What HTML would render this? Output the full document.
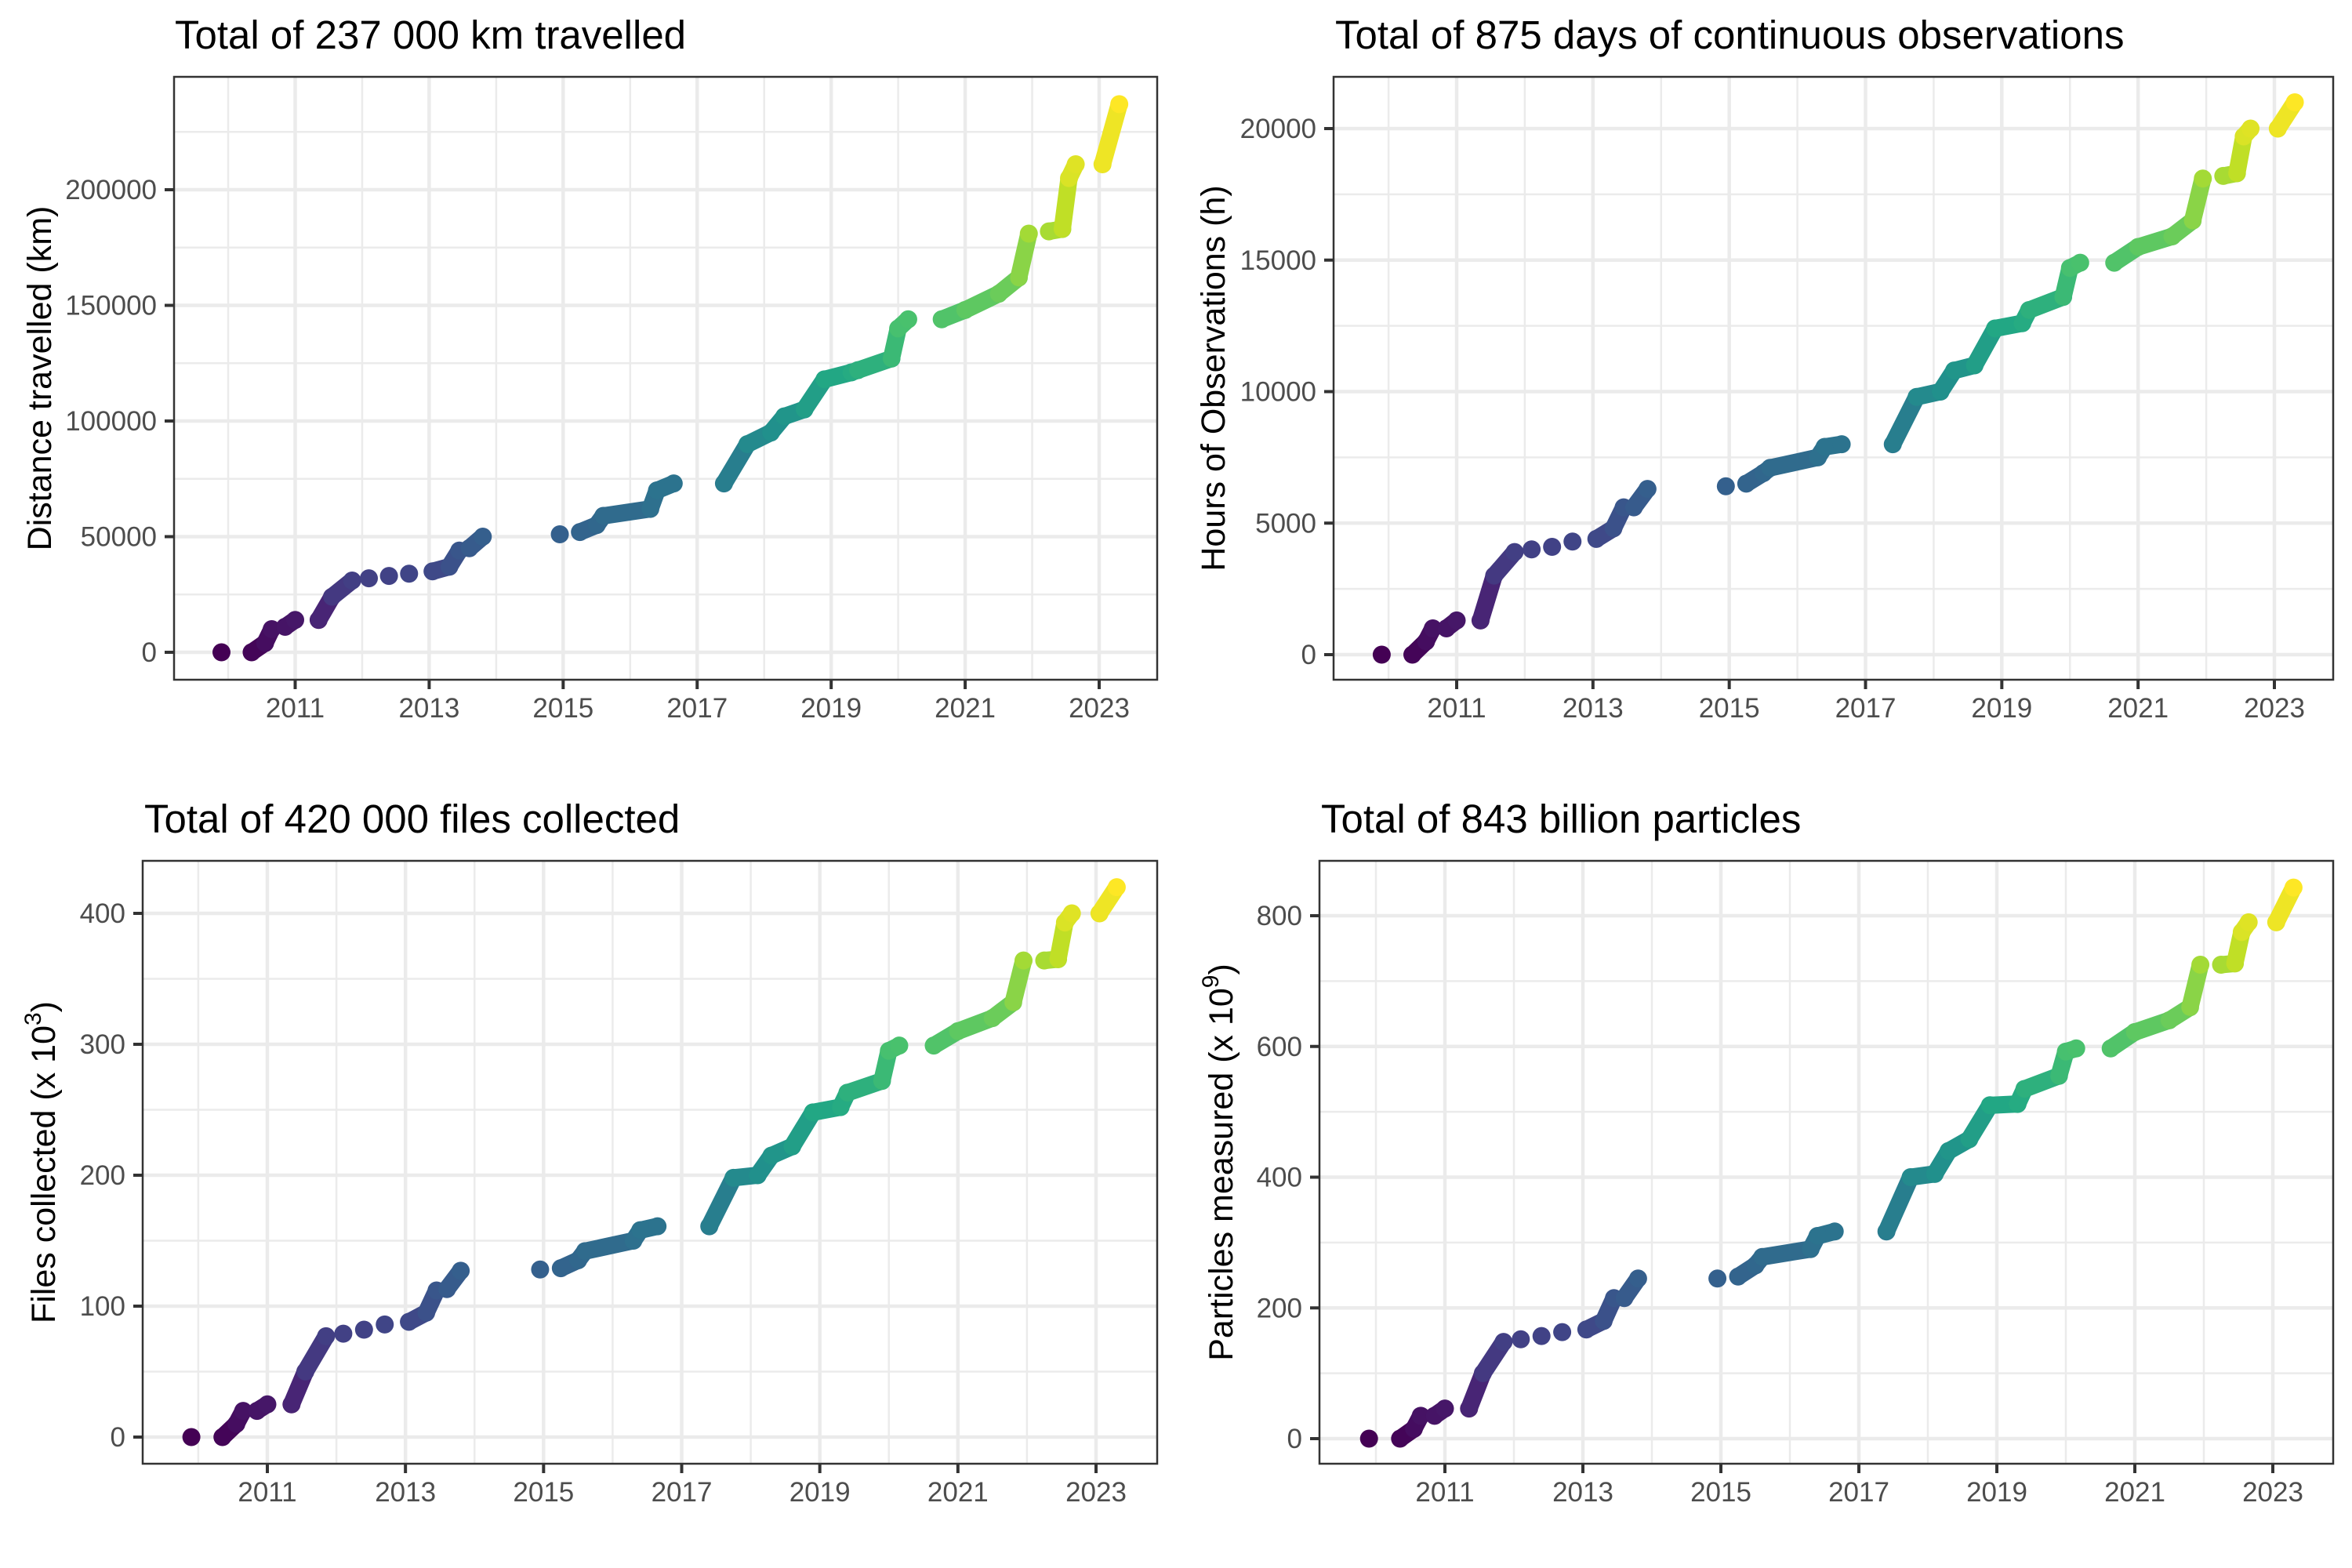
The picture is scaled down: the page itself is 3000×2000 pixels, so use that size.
<!DOCTYPE html>
<html><head><meta charset="utf-8"><style>
html,body{margin:0;padding:0;background:#fff;}
svg{display:block;font-family:"Liberation Sans",Arial,sans-serif;}
</style></head><body>
<svg id="fig" width="3000" height="2000" viewBox="0 0 3000 2000" xmlns="http://www.w3.org/2000/svg">
<rect x="0" y="0" width="3000" height="2000" fill="#fff"/>
</svg>
<script>
// Shared observation dates (decimal years) and campaign ids (gaps between campaigns)
const dates = [2009.9, 2010.35,2010.55,2010.65, 2010.85,2011.0, 2011.35,2011.55,2011.85, 2012.1, 2012.4, 2012.7,
  2013.05,2013.3,2013.45, 2013.6,2013.8, 2014.95, 2015.25,2015.5,2015.6,2016.3,2016.4,2016.65,
  2017.4,2017.75,2018.1,2018.3,2018.6,2018.9,2019.3,2019.4,2019.9,2020.0,2020.15,
  2020.65,2021.0,2021.5,2021.8,2021.95, 2022.25,2022.45,2022.55,2022.65, 2023.05,2023.3];
const campaign = [1, 2,2,2, 3,3, 4,4,4, 5, 6, 7, 8,8,8, 9,9, 10, 11,11,11,11,11,11,
  12,12,12,12,12,12,12,12,12,12,12, 13,13,13,13,13, 14,14,14,14, 15,15];
// Series values
const distanceK = [0, 0,4,10, 11,14, 14,24,31, 32, 33, 34, 35,37,44, 45,50, 51, 52,55,59,62,70,73,
  73,90,95,102,105,118,121,122,127,140,144, 144,148,155,162,181, 182,183,205,211, 211,237];
const hoursK = [0, 0,0.5,1.0, 1.0,1.3, 1.3,3.0,3.9, 4.0, 4.1, 4.3, 4.4,4.8,5.6, 5.6,6.3, 6.4, 6.5,6.9,7.1,7.5,7.9,8.0,
  8.0,9.8,10.0,10.8,11.0,12.4,12.6,13.1,13.6,14.7,14.9, 14.9,15.5,15.9,16.5,18.1, 18.2,18.3,19.7,20.0, 20.0,21.0];
const filesK = [0, 0,10,20, 20,25, 25,50,77, 79, 82, 86, 88,95,112, 113,127, 128, 129,135,142,150,158,161,
  161,198,200,215,222,248,252,263,272,295,299, 299,310,320,332,364, 364,365,393,400, 400,420];
const particlesB = [0, 0,15,35, 35,46, 46,100,148, 152, 157, 163, 167,180,215, 215,245, 245, 248,265,278,290,310,317,
  317,400,405,440,458,510,512,535,555,592,597, 597,622,640,660,725, 725,727,775,790, 790,843];
// Axis ticks
const xTicks = [2011,2013,2015,2017,2019,2021,2023];
const xMinor = [2010,2012,2014,2016,2018,2020,2022];
const ticks1 = [0,50,100,150,200];
const ticks1Labels = ["0","50000","100000","150000","200000"];
const ticks2 = [0,5,10,15,20];
const ticks2Labels = ["0","5000","10000","15000","20000"];
const ticks3 = [0,100,200,300,400];
const ticks3Labels = ["0","100","200","300","400"];
const ticks4 = [0,200,400,600,800];
const ticks4Labels = ["0","200","400","600","800"];

const NS = "http://www.w3.org/2000/svg";
const svg = document.getElementById('fig');
function mk(tag, attrs, parent){ const e=document.createElementNS(NS,tag); for(const k in attrs) e.setAttribute(k,attrs[k]); (parent||svg).appendChild(e); return e; }

const VIR = ["#440154","#482475","#414487","#355f8d","#2a788e","#21918c","#22a884","#44bf70","#7ad151","#bddf26","#fde725"];
function hex(h){return [parseInt(h.substr(1,2),16),parseInt(h.substr(3,2),16),parseInt(h.substr(5,2),16)];}
function viridis(t){ t=Math.max(0,Math.min(1,t)); const p=t*(VIR.length-1); const i=Math.min(VIR.length-2,Math.floor(p)); const f=p-i;
  const a=hex(VIR[i]), b=hex(VIR[i+1]); return "rgb("+a.map((v,k)=>Math.round(v+(b[k]-v)*f)).join(",")+")"; }
const hMax = Math.max(...hoursK);
const colT = i => hoursK[i]/hMax;

const panels = [
  {key:'distance', title:"Total of 237 000 km travelled", ytitle:"Distance travelled (km)", sup:null,
   L:222,R:1476,T:98,B:867, x11:376.5, x23:1402, y0:832, yv:200, ypx:242, vals:distanceK, ticks:ticks1, labels:ticks1Labels, tx:223, ty:62, ax:50},
  {key:'hours', title:"Total of 875 days of continuous observations", ytitle:"Hours of Observations (h)", sup:null,
   L:1701,R:2976,T:98,B:867, x11:1858, x23:2901, y0:835, yv:20, ypx:164, vals:hoursK, ticks:ticks2, labels:ticks2Labels, tx:1703, ty:62, ax:1547},
  {key:'files', title:"Total of 420 000 files collected", ytitle:"Files collected (x 10", sup:"3",
   L:182,R:1476,T:1098,B:1867, x11:341, x23:1398, y0:1833, yv:400, ypx:1165, vals:filesK, ticks:ticks3, labels:ticks3Labels, tx:184, ty:1062, ax:55},
  {key:'particles', title:"Total of 843 billion particles", ytitle:"Particles measured (x 10", sup:"9",
   L:1683,R:2976,T:1098,B:1867, x11:1843, x23:2899, y0:1835, yv:800, ypx:1168, vals:particlesB, ticks:ticks4, labels:ticks4Labels, tx:1685, ty:1062, ax:1557}
];

panels.forEach((p,pi)=>{
  const g = mk('g',{});
  
  
  const xs = v => p.x11 + (v-2011)*(p.x23-p.x11)/12;
  const ys = v => p.y0 - v*(p.y0-p.ypx)/p.yv;
  const clipId = 'clip'+pi;
  const cp = mk('clipPath',{id:clipId}, g); mk('rect',{x:p.L,y:p.T,width:p.R-p.L,height:p.B-p.T}, cp);
  const grid = mk('g',{'clip-path':'url(#'+clipId+')'}, g);
  
  
  const step = p.ticks[1]-p.ticks[0];
  for(let k=-1;k<p.ticks.length+1;k++){
    const v = p.ticks[0]+step*(k+0.5);
    const y = ys(v); if(y>p.T && y<p.B) mk('line',{x1:p.L,x2:p.R,y1:y,y2:y,stroke:'#ebebeb','stroke-width':2.5}, grid);
  }
  xMinor.forEach(v=>{ const x=xs(v); mk('line',{x1:x,x2:x,y1:p.T,y2:p.B,stroke:'#ebebeb','stroke-width':2.5}, grid); });
  p.ticks.forEach(v=>{ const y=ys(v); mk('line',{x1:p.L,x2:p.R,y1:y,y2:y,stroke:'#ebebeb','stroke-width':4.5}, grid); });
  xTicks.forEach(v=>{ const x=xs(v); mk('line',{x1:x,x2:x,y1:p.T,y2:p.B,stroke:'#ebebeb','stroke-width':4.5}, grid); });
  const dg = mk('g',{'clip-path':'url(#'+clipId+')'}, g);
  
  
  for(let i=0;i<dates.length;i++){
    const col = viridis(colT(i));
    if(i>0 && campaign[i]===campaign[i-1]){
      const c2 = viridis((colT(i)+colT(i-1))/2);
      const seg = mk('line',{x1:xs(dates[i-1]),y1:ys(p.vals[i-1]),x2:xs(dates[i]),y2:ys(p.vals[i]),stroke:c2,'stroke-width':22,'stroke-linecap':'round'}, dg);
      
      
    }
    const c = mk('circle',{cx:xs(dates[i]),cy:ys(p.vals[i]),r:11.5,fill:col}, dg);
    
    
  }
  const br = mk('rect',{x:p.L,y:p.T,width:p.R-p.L,height:p.B-p.T,fill:'none',stroke:'#333','stroke-width':2.5}, g);
  
  
  p.ticks.forEach((v,i)=>{
    const y=ys(v);
    mk('line',{x1:p.L-12,x2:p.L,y1:y,y2:y,stroke:'#333','stroke-width':4}, g);
    const t = mk('text',{x:p.L-22,y:y+12,'text-anchor':'end','font-size':35,fill:'#4d4d4d'}, g);
    t.textContent = p.labels[i];
    
    
  });
  xTicks.forEach(v=>{
    const x=xs(v);
    mk('line',{x1:x,x2:x,y1:p.B,y2:p.B+12,stroke:'#333','stroke-width':4}, g);
    const t = mk('text',{x:x,y:p.B+48,'text-anchor':'middle','font-size':35,fill:'#4d4d4d'}, g);
    t.textContent = String(v);
    
    
  });
  const tt = mk('text',{x:p.tx,y:p.ty,'font-size':51,fill:'#000'}, g);
  tt.textContent = p.title;
  
  
  const cy = (p.T+p.B)/2;
  const yt = mk('text',{x:0,y:0,'font-size':43,fill:'#000','text-anchor':'middle',transform:'translate('+(p.ax+15)+','+cy+') rotate(-90)'}, g);
  
  
  if(p.sup){
    const a = mk('tspan',{}, yt); a.textContent = p.ytitle;
    const s = mk('tspan',{'font-size':30,dy:-18}, yt); s.textContent = p.sup;
    const c = mk('tspan',{dy:18}, yt); c.textContent = ")";
  } else { yt.textContent = p.ytitle; }
});
</script>
</body></html>
